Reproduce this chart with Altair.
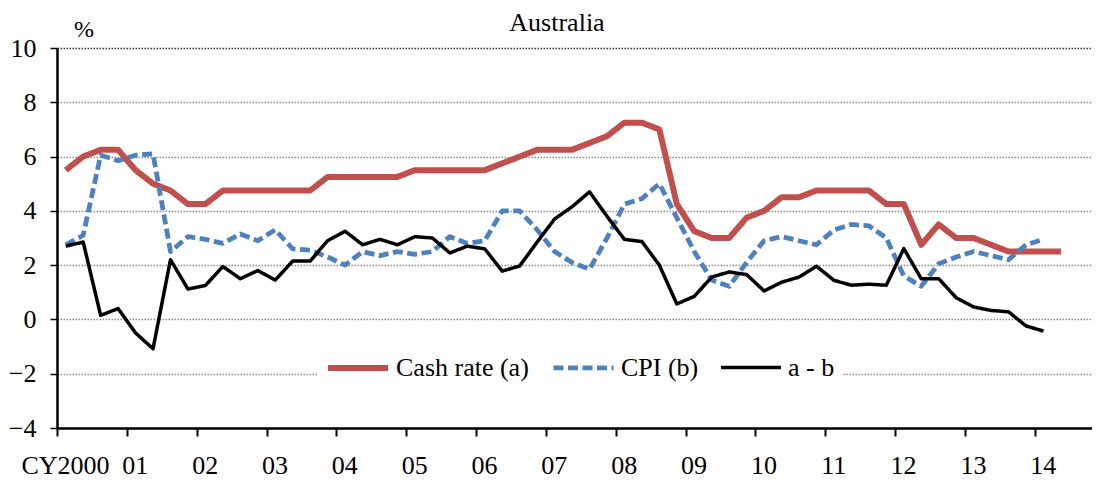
import altair as alt
import pandas as pd

# ---- data (quarterly, 2000 Q1 onwards) ----
years = list(range(2000, 2015))
year_labels = ["CY2000", "01", "02", "03", "04", "05", "06", "07",
               "08", "09", "10", "11", "12", "13", "14"]
y_ticks = [-4, -2, 0, 2, 4, 6, 8, 10]

series_names = ["Cash rate (a)", "CPI (b)", "a - b"]
series_colors = ["#C0504D", "#4F81BD", "#000000"]
series_widths = [6, 3.5, 1.3]
series_dash = [[1, 0], [10, 4.5], [1, 0]]

cash_rate = [5.5, 6.0, 6.25, 6.25, 5.5, 5.0, 4.75, 4.25,
             4.25, 4.75, 4.75, 4.75, 4.75, 4.75, 4.75, 5.25,
             5.25, 5.25, 5.25, 5.25, 5.5, 5.5, 5.5, 5.5,
             5.5, 5.75, 6.0, 6.25, 6.25, 6.25, 6.5, 6.75,
             7.25, 7.25, 7.0, 4.25, 3.25, 3.0, 3.0, 3.75,
             4.0, 4.5, 4.5, 4.75, 4.75, 4.75, 4.75, 4.25,
             4.25, 2.75, 3.5, 3.0, 3.0, 2.75, 2.5, 2.5,
             2.5, 2.5]

cpi = [2.75, 3.1, 6.05, 5.85, 6.05, 6.1, 2.5, 3.05,
       2.95, 2.8, 3.15, 2.9, 3.3, 2.6, 2.55, 2.3,
       2.0, 2.5, 2.35, 2.5, 2.4, 2.5, 3.05, 2.8,
       2.9, 4.0, 4.0, 3.3, 2.5, 2.1, 1.85, 3.0,
       4.25, 4.45, 5.0, 3.75, 2.5, 1.45, 1.22, 2.1,
       2.9, 3.05, 2.9, 2.75, 3.3, 3.5, 3.45, 3.0,
       1.6, 1.22, 2.05, 2.3, 2.5, 2.35, 2.2, 2.75,
       2.95]

a_minus_b = [2.7, 2.85, 0.15, 0.4, -0.5, -1.08, 2.2, 1.12,
             1.25, 1.95, 1.5, 1.8, 1.45, 2.15, 2.15, 2.9,
             3.25, 2.75, 2.95, 2.75, 3.05, 3.0, 2.45, 2.7,
             2.6, 1.78, 1.97, 2.85, 3.7, 4.15, 4.7, 3.8,
             2.95, 2.87, 2.0, 0.57, 0.85, 1.56, 1.75, 1.65,
             1.05, 1.37, 1.56, 1.96, 1.44, 1.26, 1.3, 1.26,
             2.61, 1.5, 1.5, 0.8, 0.46, 0.33, 0.28, -0.24,
             -0.43]

title_text = ["Australia"]
unit_text = ["%"]

rows = []
for name, vals in zip(series_names, [cash_rate, cpi, a_minus_b]):
    for k, v in enumerate(vals):
        year = years[0] + k // 4
        quarter = k % 4 + 1
        rows.append({"series": name, "t": year + (quarter - 0.5) / 4,
                     "value": v, "k": k})
df = pd.DataFrame(rows)

FONT = "Liberation Serif"

label_expr = "[" + ",".join("'%s'" % s for s in year_labels) + "][round(datum.value) - %d]" % years[0]

leg = alt.Legend(
    orient="none", legendX=260, legendY=279, direction="horizontal",
    title=None, labelFont=FONT, labelFontSize=26, labelColor="black",
    labelOffset=5, columnPadding=15, symbolSize=3600, symbolType="stroke",
    fillColor="white", padding=8, labelLimit=400,
)

lines = alt.Chart(df).mark_line(strokeCap="butt", strokeJoin="round").encode(
    x=alt.X("t:Q",
            scale=alt.Scale(domain=[2000, 2014.82], nice=False, zero=False),
            axis=alt.Axis(values=years, labelExpr=label_expr, title=None,
                          grid=False, labelFont=FONT, labelFontSize=26,
                          labelColor="black", labelOffset=8, labelPadding=16,
                          labelOverlap=False, labelFlush=False, labelBound=False,
                          tickSize=8, tickWidth=2, tickColor="black",
                          domainColor="black", domainWidth=2.5)),
    y=alt.Y("value:Q",
            scale=alt.Scale(domain=[-4, 10], nice=False, zero=False),
            axis=alt.Axis(values=y_ticks, title=None, labelFont=FONT,
                          labelFontSize=26, labelColor="black", labelPadding=14,
                          tickSize=7, tickWidth=1.5, tickColor="black",
                          domainColor="black", domainWidth=2.5,
                          grid=True,
                          gridColor={"condition": {"test": "datum.value === 10", "value": "#333333"},
                                     "value": "#8c8c8c"},
                          gridDash=[1.5, 1.5], gridWidth=1.3)),
    color=alt.Color("series:N", sort=series_names,
                    scale=alt.Scale(domain=series_names, range=series_colors),
                    legend=leg),
    strokeDash=alt.StrokeDash("series:N", sort=series_names,
                              scale=alt.Scale(domain=series_names, range=series_dash),
                              legend=leg),
    strokeWidth=alt.StrokeWidth("series:N", sort=series_names,
                                scale=alt.Scale(domain=series_names, range=series_widths),
                                legend=leg),
    order=alt.Order("k:Q"),
)

title_mark = alt.Chart(pd.DataFrame({"text": title_text})).mark_text(
    font=FONT, fontSize=26, align="center", baseline="alphabetic", color="black"
).encode(text="text:N", x=alt.value(500), y=alt.value(-17))

unit_mark = alt.Chart(pd.DataFrame({"text": unit_text})).mark_text(
    font=FONT, fontSize=24, align="center", baseline="alphabetic", color="black"
).encode(text="text:N", x=alt.value(27), y=alt.value(-11))

chart = alt.layer(lines, title_mark, unit_mark).properties(
    width=1035, height=380,
    autosize=alt.AutoSizeParams(type="none"),
    padding={"left": 49, "top": 40, "right": 0, "bottom": 54},
).configure_view(strokeWidth=0)

chart.save("out.html", embed_options={"renderer": "svg", "actions": False})
